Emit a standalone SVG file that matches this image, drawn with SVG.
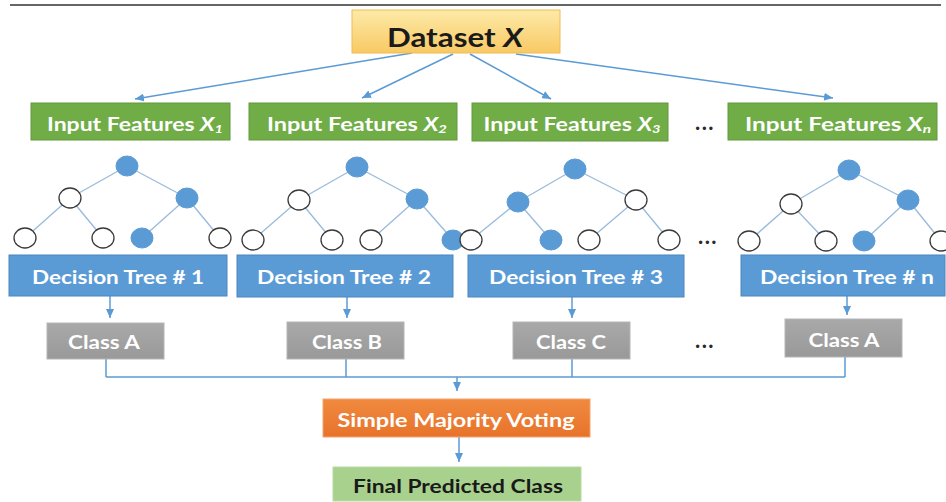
<svg xmlns="http://www.w3.org/2000/svg" width="946" height="502" viewBox="0 0 946 502">
<style>
text{font-family:Lato,"Open Sans","Liberation Sans",sans-serif;font-weight:bold;text-anchor:middle}
.w{fill:#ffffff}
.k{fill:#1a1a1a}
.green{fill:#70ad47;stroke:#62993d;stroke-width:1}
.blue{fill:#5b9bd5;stroke:#4a86bf;stroke-width:1}
.gray{fill:url(#gGray);stroke:#b5b5b5;stroke-width:1}
.edge{stroke:#9bbcdc;stroke-width:1.4;fill:none}
.nb{fill:#5b9bd5;stroke:#5b9bd5;stroke-width:1}
.nw{fill:#ffffff;stroke:#3a3a3a;stroke-width:1.3}
.con{stroke:#5b9bd5;stroke-width:1.5;fill:none}
.dots{fill:#2a2a2a;font-size:22px;letter-spacing:1.5px}
</style>
<defs>
<linearGradient id="gDs" x1="0" y1="0" x2="0" y2="1">
<stop offset="0" stop-color="#fdeaa8"/>
<stop offset="1" stop-color="#f8c964"/>
</linearGradient>
<linearGradient id="gGray" x1="0" y1="0" x2="0" y2="1">
<stop offset="0" stop-color="#a9a9a9"/>
<stop offset="1" stop-color="#999999"/>
</linearGradient>
<linearGradient id="gOr" x1="0" y1="0" x2="0" y2="1">
<stop offset="0" stop-color="#f08a40"/>
<stop offset="1" stop-color="#e8732a"/>
</linearGradient>
<marker id="ah" viewBox="0 0 9 8" refX="9" refY="4" markerWidth="9" markerHeight="8" markerUnits="userSpaceOnUse" orient="auto">
<path d="M0,0 L9,4 L0,8 z" fill="#5b9bd5"/>
</marker>
</defs>
<rect width="946" height="502" fill="#ffffff"/>
<line x1="10" y1="5" x2="941" y2="5" stroke="#333333" stroke-width="1.5"/>

<g id="connectors">
<line class="con" x1="412" y1="53" x2="135" y2="99" marker-end="url(#ah)"/>
<line class="con" x1="453" y1="54" x2="362" y2="98" marker-end="url(#ah)"/>
<line class="con" x1="470" y1="54" x2="551" y2="99" marker-end="url(#ah)"/>
<line class="con" x1="516" y1="54" x2="833" y2="98" marker-end="url(#ah)"/>
<line class="con" x1="110" y1="296" x2="110" y2="318" marker-end="url(#ah)"/>
<line class="con" x1="347" y1="297" x2="347" y2="318" marker-end="url(#ah)"/>
<line class="con" x1="572" y1="297" x2="572" y2="318" marker-end="url(#ah)"/>
<line class="con" x1="847" y1="296" x2="847" y2="315" marker-end="url(#ah)"/>
<path class="con" d="M106,359 V377 M346,359 V377 M572,359 V377 M845,357 V377 M106,377 H845"/>
<line class="con" x1="457" y1="377" x2="457" y2="391" marker-end="url(#ah)"/>
<line class="con" x1="459" y1="437" x2="459" y2="462" marker-end="url(#ah)"/>
</g>

<g id="dataset">
<rect x="352" y="10" width="208" height="43" fill="url(#gDs)" stroke="#f0bb55" stroke-width="1"/>
<text class="k" x="455" y="47" font-size="26" textLength="136" lengthAdjust="spacingAndGlyphs">Dataset <tspan font-style="italic">X</tspan></text>
</g>

<g id="input1">
<rect class="green" x="31" y="103" width="199" height="37"/>
<text class="w" x="135" y="131" font-size="19" textLength="176" lengthAdjust="spacingAndGlyphs">Input Features <tspan font-style="italic">X</tspan><tspan font-style="italic" font-size="12" dy="2">1</tspan></text>
</g>
<g id="input2">
<rect class="green" x="249" y="103" width="208" height="37"/>
<text class="w" x="357" y="131" font-size="19" textLength="180" lengthAdjust="spacingAndGlyphs">Input Features <tspan font-style="italic">X</tspan><tspan font-style="italic" font-size="12" dy="2">2</tspan></text>
</g>
<g id="input3">
<rect class="green" x="472" y="103" width="196" height="38"/>
<text class="w" x="572" y="131" font-size="19" textLength="177" lengthAdjust="spacingAndGlyphs">Input Features <tspan font-style="italic">X</tspan><tspan font-style="italic" font-size="12" dy="2">3</tspan></text>
</g>
<text class="dots" x="705" y="130">...</text>
<g id="inputn">
<rect class="green" x="728" y="103" width="209" height="37"/>
<text class="w" x="838" y="131" font-size="19" textLength="186" lengthAdjust="spacingAndGlyphs">Input Features <tspan font-style="italic">X</tspan><tspan font-style="italic" font-size="12" dy="2">n</tspan></text>
</g>

<g id="tree1">
<path class="edge" d="M127,166 L70,198 M127,166 L187,198 M70,198 L25,238 M70,198 L103,238 M187,198 L142,238 M187,198 L220,238"/>
<ellipse class="nb" cx="127" cy="166" rx="11" ry="10"/>
<ellipse class="nw" cx="70" cy="198" rx="11" ry="10"/>
<ellipse class="nb" cx="187" cy="198" rx="11" ry="10"/>
<ellipse class="nw" cx="25" cy="238" rx="11" ry="10"/>
<ellipse class="nw" cx="103" cy="238" rx="11" ry="10"/>
<ellipse class="nb" cx="142" cy="238" rx="11" ry="10"/>
<ellipse class="nw" cx="220" cy="238" rx="11" ry="10"/>
</g>
<g id="tree2">
<path class="edge" d="M357,167 L299,200 M357,167 L417,199 M299,200 L253,240 M299,200 L332,240 M417,199 L371,240 M417,199 L453,240"/>
<ellipse class="nb" cx="357" cy="167" rx="11" ry="10"/>
<ellipse class="nw" cx="299" cy="200" rx="11" ry="10"/>
<ellipse class="nb" cx="417" cy="199" rx="11" ry="10"/>
<ellipse class="nw" cx="253" cy="240" rx="11" ry="10"/>
<ellipse class="nw" cx="332" cy="240" rx="11" ry="10"/>
<ellipse class="nw" cx="371" cy="240" rx="11" ry="10"/>
<ellipse class="nb" cx="453" cy="240" rx="11" ry="10"/>
</g>
<g id="tree3">
<path class="edge" d="M575,169 L518,202 M575,169 L636,200 M518,202 L471,240 M518,202 L551,240 M636,200 L589,240 M636,200 L669,240"/>
<ellipse class="nb" cx="575" cy="169" rx="11" ry="10"/>
<ellipse class="nb" cx="518" cy="202" rx="11" ry="10"/>
<ellipse class="nw" cx="636" cy="200" rx="11" ry="10"/>
<ellipse class="nw" cx="471" cy="240" rx="11" ry="10"/>
<ellipse class="nb" cx="551" cy="240" rx="11" ry="10"/>
<ellipse class="nw" cx="589" cy="240" rx="11" ry="10"/>
<ellipse class="nw" cx="669" cy="240" rx="11" ry="10"/>
</g>
<text class="dots" x="708" y="244">...</text>
<g id="treen">
<path class="edge" d="M849,170 L791,204 M849,170 L908,200 M791,204 L749,241 M791,204 L826,241 M908,200 L864,241 M908,200 L941,241"/>
<ellipse class="nb" cx="849" cy="170" rx="11" ry="10"/>
<ellipse class="nw" cx="791" cy="204" rx="11" ry="10"/>
<ellipse class="nb" cx="908" cy="200" rx="11" ry="10"/>
<ellipse class="nw" cx="749" cy="241" rx="11" ry="10"/>
<ellipse class="nw" cx="826" cy="241" rx="11" ry="10"/>
<ellipse class="nb" cx="864" cy="241" rx="11" ry="10"/>
<ellipse class="nw" cx="941" cy="241" rx="11" ry="10"/>
</g>

<g id="dt1">
<rect class="blue" x="9" y="255" width="218" height="41"/>
<text class="w" x="118" y="284" font-size="19" textLength="172" lengthAdjust="spacingAndGlyphs">Decision Tree # 1</text>
</g>
<g id="dt2">
<rect class="blue" x="237" y="255" width="216" height="42"/>
<text class="w" x="344" y="284" font-size="19" textLength="174" lengthAdjust="spacingAndGlyphs">Decision Tree # 2</text>
</g>
<g id="dt3">
<rect class="blue" x="468" y="255" width="216" height="42"/>
<text class="w" x="576" y="284" font-size="19" textLength="174" lengthAdjust="spacingAndGlyphs">Decision Tree # 3</text>
</g>
<g id="dtn">
<rect class="blue" x="741" y="255" width="204" height="41"/>
<text class="w" x="847" y="284" font-size="19" textLength="174" lengthAdjust="spacingAndGlyphs">Decision Tree # n</text>
</g>

<g id="class1">
<rect class="gray" x="47" y="323" width="117" height="36"/>
<text class="w" x="104" y="349" font-size="18" textLength="72" lengthAdjust="spacingAndGlyphs">Class A</text>
</g>
<g id="class2">
<rect class="gray" x="287" y="322" width="117" height="37"/>
<text class="w" x="347" y="349" font-size="18" textLength="70" lengthAdjust="spacingAndGlyphs">Class B</text>
</g>
<g id="class3">
<rect class="gray" x="513" y="322" width="117" height="37"/>
<text class="w" x="571" y="349" font-size="18" textLength="70" lengthAdjust="spacingAndGlyphs">Class C</text>
</g>
<text class="dots" x="705" y="348">...</text>
<g id="classn">
<rect class="gray" x="785" y="319" width="117" height="38"/>
<text class="w" x="844" y="347" font-size="18" textLength="71" lengthAdjust="spacingAndGlyphs">Class A</text>
</g>

<g id="voting">
<rect x="323" y="399" width="267" height="38" fill="url(#gOr)" stroke="#f2a36f" stroke-width="1"/>
<text class="w" x="456" y="427" font-size="19" textLength="237" lengthAdjust="spacingAndGlyphs">Simple Majority Voting</text>
</g>
<g id="final">
<rect x="333" y="467" width="248" height="34" fill="#a9d18e" stroke="#b8dba0" stroke-width="1"/>
<text class="k" x="458" y="493" font-size="19" textLength="210" lengthAdjust="spacingAndGlyphs">Final Predicted Class</text>
</g>
</svg>
